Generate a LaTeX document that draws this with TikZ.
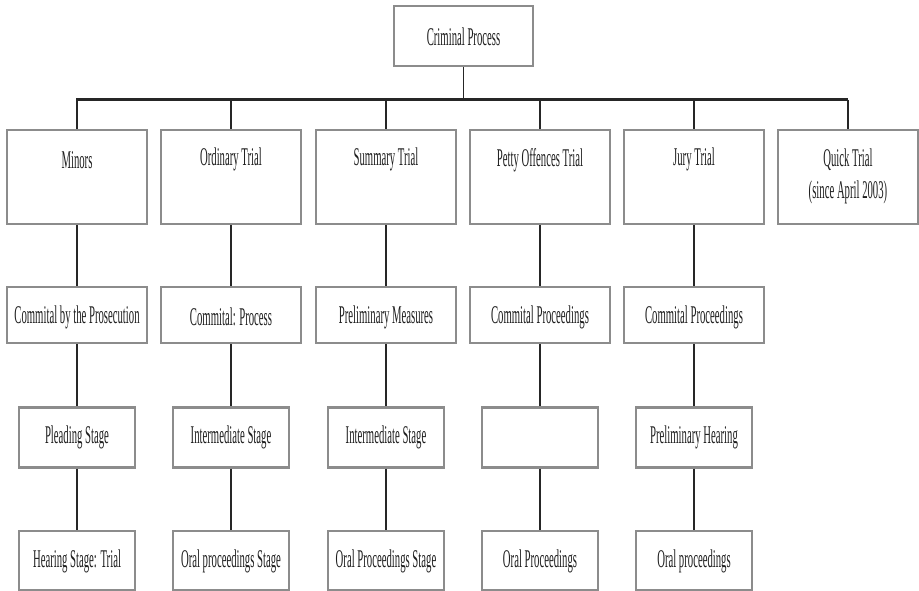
\documentclass[tikz,border=0pt]{standalone}
\usepackage{fontspec}
\setmainfont{Liberation Serif}[FakeStretch=0.42]
\begin{document}
\begin{tikzpicture}[x=1pt,y=-1pt,
  box/.style={draw=black!45, line width=2.4pt, fill=white, inner sep=0pt},
  topbox/.style={box, minimum width=140pt, minimum height=94pt},
  midbox/.style={box, minimum width=140pt, minimum height=56pt},
  stagebox/.style={box, minimum width=116pt, minimum height=60pt},
  lbl/.style={text=black!88, font=\fontsize{25.5}{33}\selectfont, inner sep=0pt, align=center},
  conn/.style={draw=black!85, line width=1.3pt},
  bus/.style={draw=black!85, line width=3pt}]
\useasboundingbox (0,0) rectangle (919,591);

% root
\node[box, minimum width=139pt, minimum height=60pt] (root) at (463.5,36) {};
\node[lbl] (rootT) at ([yshift=-1pt]root.center) {Criminal Process};

% bus bar
\coordinate (busL) at (76,100);
\coordinate (busR) at (848,100);
\draw[bus] (busL) -- (busR);
\draw[conn] (root.south) -- (root.south |- busL);

% first row: kinds of proceedings
\foreach \n/\x/\t in {minors/77/Minors, ordinary/231/Ordinary Trial, summary/386/Summary Trial,
                      petty/540/Petty Offences Trial, jury/694/Jury Trial, quick/848/Quick Trial} {
  \node[topbox] (\n) at (\x,177) {};
  \draw[conn] (\n.north |- busL) -- (\n.north);
  \node[lbl] (\n T) at ([yshift=-31pt]\n.north) {\t};
}
\node[lbl] (quickT2) at ([yshift=-64pt]quick.north) {(since April 2003)};

% second row
\foreach \n/\p/\x/\t in {mcom/minors/77/Commital by the Prosecution, ocom/ordinary/231/Commital: Process,
                         scom/summary/386/Preliminary Measures, pcom/petty/540/Commital Proceedings,
                         jcom/jury/694/Commital Proceedings} {
  \node[midbox] (\n) at (\x,315) {};
  \node[lbl] (\n T) at ([yshift=-2pt]\n.center) {\t};
  \draw[conn] (\p.south) -- (\n.north);
}

% third row
\foreach \n/\p/\x/\t in {mmid/mcom/77/Pleading Stage, omid/ocom/231/Intermediate Stage,
                         smid/scom/386/Intermediate Stage, pmid/pcom/540/,
                         jmid/jcom/694/Preliminary Hearing} {
  \node[stagebox] (\n) at (\x,437.5) {};
  \node[lbl] (\n T) at (\n.center) {\t};
  \draw[conn] (\p.south) -- (\n.north);
}

% fourth row
\foreach \n/\p/\x/\t in {mend/mmid/77/Hearing Stage: Trial, oend/omid/231/Oral proceedings Stage,
                         send/smid/386/Oral Proceedings Stage, pend/pmid/540/Oral Proceedings,
                         jend/jmid/694/Oral proceedings} {
  \node[stagebox, minimum height=59pt] (\n) at (\x,560.5) {};
  \node[lbl] (\n T) at ([yshift=-1pt]\n.center) {\t};
  \draw[conn] (\p.south) -- (\n.north);
}
\end{tikzpicture}
\end{document}
